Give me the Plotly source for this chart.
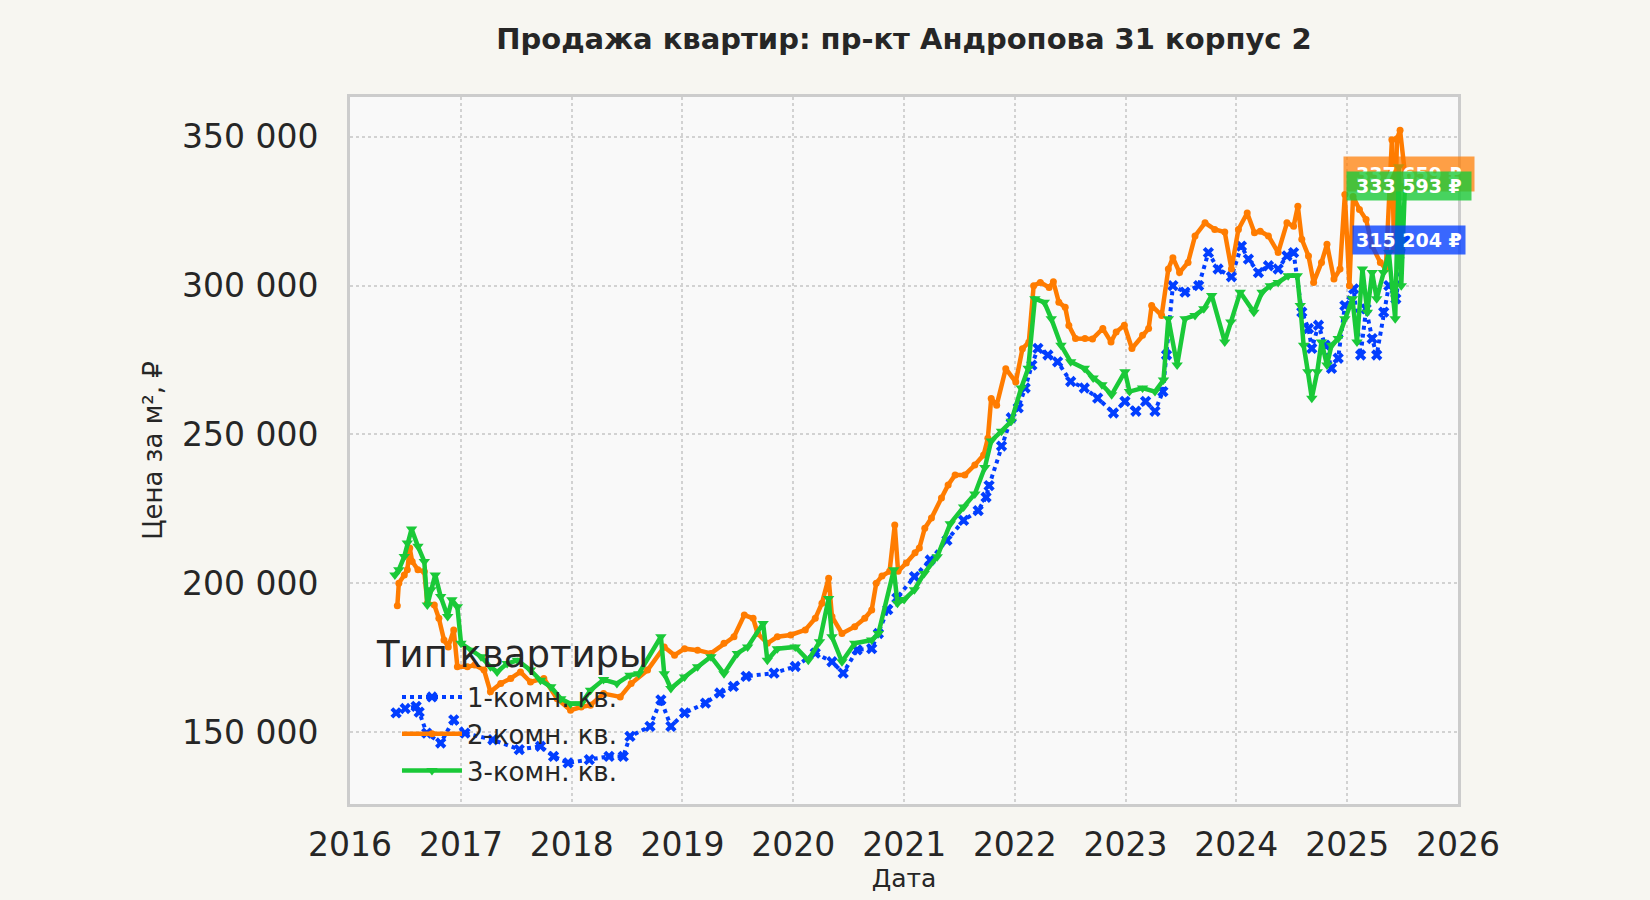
import plotly.graph_objects as go

# 1-комн. кв.
dates_1k = [
    "2016-06-01", "2016-07-01", "2016-08-06", "2016-08-16", "2016-09-10", "2016-10-26",
    "2016-12-08", "2017-01-14", "2017-04-16", "2017-07-12", "2017-09-20", "2017-11-02",
    "2017-12-20", "2018-02-28", "2018-05-04", "2018-06-20", "2018-07-12", "2018-09-16",
    "2018-10-22", "2018-11-24", "2019-01-08", "2019-03-18", "2019-05-04", "2019-06-18",
    "2019-07-30", "2019-10-30", "2020-01-08", "2020-03-14", "2020-05-08", "2020-06-14",
    "2020-07-30", "2020-09-16", "2020-10-08", "2020-11-08", "2020-12-08", "2021-02-04",
    "2021-03-28", "2021-05-22", "2021-07-16", "2021-09-02", "2021-09-28", "2021-10-08",
    "2021-11-18", "2021-12-20", "2022-01-12", "2022-02-04", "2022-02-26", "2022-03-18",
    "2022-04-20", "2022-05-22", "2022-07-04", "2022-08-18", "2022-10-01", "2022-11-22",
    "2022-12-30", "2023-02-04", "2023-03-08", "2023-04-08", "2023-05-04", "2023-05-16",
    "2023-06-06", "2023-07-16", "2023-08-30", "2023-10-01", "2023-11-02", "2023-12-16",
    "2024-01-18", "2024-02-10", "2024-03-14", "2024-04-16", "2024-05-18", "2024-06-16",
    "2024-07-08", "2024-08-04", "2024-08-26", "2024-09-06", "2024-09-28", "2024-10-20",
    "2024-11-10", "2024-12-02", "2024-12-24", "2025-01-22", "2025-02-14", "2025-03-04",
    "2025-03-24", "2025-04-08", "2025-05-01", "2025-05-18", "2025-06-10", "2025-07-10",
]
prices_1k = [
    156400, 157900, 158600, 156700, 149600, 146300,
    154100, 149600, 147400, 144100, 145200, 141800,
    139600, 140700, 141800, 141800, 148500, 151900,
    160800, 151900, 156400, 159700, 163100, 165300,
    168700, 169800, 172000, 176500, 173600, 169800,
    177600, 178000, 183100, 191100, 195000, 202200,
    207800, 214400, 221100, 224400, 228900, 232800,
    246100, 255600, 258900, 265600, 273300, 278900,
    276700, 274400, 267800, 265600, 262200, 257200,
    261100, 257800, 261100, 257800, 264400, 276700,
    300000, 297800, 300000, 311100, 305600, 303000,
    313300, 308900, 304400, 306700, 305600, 310000,
    311100, 291100, 285600, 278900, 286700, 280000,
    272200, 275600, 293300, 298900, 276700, 292200,
    282200, 276700, 291100, 300000, 295600, 315204,
]

# 2-комн. кв.
dates_2k = [
    "2016-06-05", "2016-06-10", "2016-06-28", "2016-07-08", "2016-07-16", "2016-07-24",
    "2016-08-12", "2016-09-02", "2016-09-12", "2016-10-05", "2016-10-20", "2016-11-06",
    "2016-11-20", "2016-12-08", "2016-12-20", "2017-01-22", "2017-02-15", "2017-03-18",
    "2017-04-08", "2017-05-12", "2017-06-14", "2017-07-16", "2017-08-18", "2017-10-01",
    "2017-11-14", "2017-12-28", "2018-02-01", "2018-03-04", "2018-04-16", "2018-06-10",
    "2018-07-16", "2018-09-08", "2018-11-02", "2018-12-06", "2019-01-08", "2019-02-20",
    "2019-04-05", "2019-05-18", "2019-06-20", "2019-07-24", "2019-08-22", "2019-09-06",
    "2019-10-08", "2019-11-10", "2019-12-24", "2020-02-10", "2020-03-14", "2020-04-05",
    "2020-04-27", "2020-05-08", "2020-06-10", "2020-07-22", "2020-08-24", "2020-09-16",
    "2020-10-01", "2020-10-20", "2020-11-14", "2020-12-01", "2020-12-12", "2021-01-08",
    "2021-02-06", "2021-02-20", "2021-03-10", "2021-04-01", "2021-05-04", "2021-05-26",
    "2021-06-18", "2021-07-20", "2021-08-22", "2021-09-20", "2021-10-04", "2021-10-15",
    "2021-11-02", "2021-12-02", "2022-01-04", "2022-01-26", "2022-02-16", "2022-03-04",
    "2022-03-26", "2022-04-24", "2022-05-08", "2022-05-26", "2022-06-16", "2022-06-28",
    "2022-07-20", "2022-08-20", "2022-09-14", "2022-10-18", "2022-11-14", "2022-12-01",
    "2022-12-28", "2023-01-22", "2023-02-26", "2023-03-18", "2023-03-28", "2023-04-30",
    "2023-05-22", "2023-06-06", "2023-06-28", "2023-07-26", "2023-08-18", "2023-09-20",
    "2023-10-22", "2023-11-24", "2023-12-16", "2024-01-08", "2024-02-06", "2024-03-01",
    "2024-03-20", "2024-04-16", "2024-05-18", "2024-06-16", "2024-07-08", "2024-07-22",
    "2024-08-04", "2024-08-26", "2024-09-12", "2024-10-08", "2024-10-26", "2024-11-18",
    "2024-12-08", "2024-12-24", "2025-01-08", "2025-01-20", "2025-02-10", "2025-03-04",
    "2025-03-24", "2025-04-20", "2025-05-08", "2025-05-28", "2025-06-04", "2025-06-14",
    "2025-06-24", "2025-07-10",
]
prices_2k = [
    192400, 200000, 202800, 204500, 211800, 207300,
    204500, 203900, 193300, 192700, 188200, 180900,
    178600, 184300, 171900, 171900, 172500, 170800,
    163500, 166300, 168000, 170200, 166800, 168000,
    161200, 157300, 158400, 159000, 162900, 161800,
    166300, 170800, 178600, 175800, 178000, 177500,
    176400, 179800, 182000, 189300, 188200, 183100,
    179800, 182000, 182600, 184300, 188200, 193300,
    201700, 188800, 183100, 185400, 188200, 191000,
    200000, 202400, 204000, 219600, 204000, 206800,
    210200, 211800, 218500, 221900, 228600, 233000,
    236400, 236400, 239700, 243100, 248700, 262100,
    259800, 272100, 267600, 278800, 281000, 300000,
    301100, 299400, 301300, 294400, 292700, 286600,
    282200, 282200, 282100, 285600, 281100, 284400,
    286700, 278900, 283300, 285600, 293300, 290000,
    305600, 309400, 304400, 307800, 316700, 321100,
    318900, 318000, 305600, 318900, 324400, 317800,
    318300, 316700, 311100, 321100, 320000, 326700,
    315600, 310000, 301100, 307800, 313900, 302200,
    305600, 330600, 300000, 330000, 325600, 322200,
    313300, 307800, 305600, 349000, 312000, 349400,
    352200, 337659,
]

# 3-комн. кв.
dates_3k = [
    "2016-05-28", "2016-06-10", "2016-06-28", "2016-07-08", "2016-07-22", "2016-08-12",
    "2016-09-02", "2016-09-12", "2016-09-24", "2016-10-08", "2016-10-26", "2016-11-18",
    "2016-12-02", "2016-12-20", "2017-01-01", "2017-02-04", "2017-03-08", "2017-04-08",
    "2017-04-30", "2017-06-02", "2017-07-06", "2017-08-18", "2017-09-20", "2017-10-24",
    "2017-11-26", "2017-12-28", "2018-02-01", "2018-03-04", "2018-04-16", "2018-05-30",
    "2018-07-12", "2018-08-10", "2018-10-22", "2018-11-02", "2018-11-24", "2019-01-08",
    "2019-02-20", "2019-04-05", "2019-05-18", "2019-07-01", "2019-08-04", "2019-09-24",
    "2019-10-08", "2019-11-10", "2020-01-08", "2020-02-20", "2020-03-28", "2020-04-27",
    "2020-05-08", "2020-06-10", "2020-07-22", "2020-09-16", "2020-10-08", "2020-11-28",
    "2020-12-10", "2021-01-01", "2021-02-04", "2021-03-08", "2021-04-20", "2021-06-02",
    "2021-07-16", "2021-08-22", "2021-09-24", "2021-10-15", "2021-11-18", "2021-12-20",
    "2022-01-22", "2022-02-14", "2022-03-08", "2022-04-08", "2022-05-01", "2022-06-02",
    "2022-07-04", "2022-08-18", "2022-09-16", "2022-10-15", "2022-11-16", "2022-12-30",
    "2023-01-14", "2023-02-26", "2023-04-08", "2023-05-06", "2023-05-22", "2023-06-20",
    "2023-07-16", "2023-08-18", "2023-09-16", "2023-10-12", "2023-11-24", "2023-12-14",
    "2024-01-14", "2024-02-28", "2024-03-26", "2024-04-22", "2024-05-18", "2024-06-20",
    "2024-07-20", "2024-07-30", "2024-08-10", "2024-08-24", "2024-09-06", "2024-09-24",
    "2024-10-08", "2024-10-26", "2024-11-10", "2024-12-02", "2024-12-24", "2025-01-18",
    "2025-02-02", "2025-02-20", "2025-03-08", "2025-03-24", "2025-04-08", "2025-04-30",
    "2025-05-18", "2025-06-08", "2025-06-20", "2025-06-28", "2025-07-10",
]
prices_3k = [
    202800, 204500, 209000, 213500, 218200, 212400,
    207300, 192700, 197800, 202800, 195500, 188800,
    194400, 192100, 179800, 177500, 175300, 171900,
    170200, 173000, 174100, 170800, 167400, 165200,
    161200, 159500, 159500, 164000, 167600, 166300,
    169100, 169600, 182000, 169600, 164600, 168500,
    171900, 175300, 169600, 176400, 178600, 186500,
    174100, 178000, 178600, 174100, 180300, 194900,
    182000, 173600, 179800, 180900, 183100, 204500,
    193300, 194500, 197800, 203300, 208900, 220000,
    225600, 230000, 238900, 247800, 251100, 254400,
    265600, 272200, 295600, 294400, 288900, 280000,
    274400, 272200, 269000, 266700, 263300, 271100,
    264400, 265600, 264400, 268300, 288900, 273300,
    288900, 290000, 292200, 296700, 281100, 287800,
    297800, 291100, 297800, 300000, 301100, 303300,
    303300, 293300, 280000, 271100, 262200, 271100,
    281100, 273300, 280000, 282200, 288900, 295600,
    281100, 305600, 291100, 304400, 295600, 304400,
    311100, 288900, 340000, 300000, 333593,
]

series_names = ["1-комн. кв.", "2-комн. кв.", "3-комн. кв."]
legend_title = "Тип квартиры"
colors = ["#023eff", "#ff7c00", "#1ac938"]
label_bg = ["rgba(2,62,255,0.78)", "rgba(255,124,0,0.72)", "rgba(26,201,56,0.8)"]

FONT = "DejaVu Sans"
PAGE_BG = "#f7f6f1"
NBSP = "\u00a0"

fig = go.Figure()

fig.add_trace(go.Scatter(
    x=dates_1k, y=prices_1k, name=series_names[0], mode="lines+markers",
    line=dict(color=colors[0], width=4, dash="dot"),
    marker=dict(symbol="x", size=10, color=colors[0]),
))
fig.add_trace(go.Scatter(
    x=dates_2k, y=prices_2k, name=series_names[1], mode="lines+markers",
    line=dict(color=colors[1], width=4.5),
    marker=dict(symbol="circle", size=7, color=colors[1]),
))
fig.add_trace(go.Scatter(
    x=dates_3k, y=prices_3k, name=series_names[2], mode="lines+markers",
    line=dict(color=colors[2], width=4.5),
    marker=dict(symbol="triangle-down", size=10, color=colors[2]),
))


def fmt_rub(v):
    return f"{v:,}".replace(",", " ") + " ₽"


# end-of-series labels: orange under green, blue last
for dates, prices, bg, pad, side in [(dates_2k, prices_2k, label_bg[1], 6, NBSP),
                                     (dates_3k, prices_3k, label_bg[2], 3, NBSP),
                                     (dates_1k, prices_1k, label_bg[0], 3, "")]:
    fig.add_annotation(
        x=dates[-1], y=prices[-1], text=side + "<b>" + fmt_rub(prices[-1]) + "</b>" + side,
        showarrow=False, xanchor="center", yanchor="middle", xshift=4,
        font=dict(family=FONT, size=19, color="white"),
        bgcolor=bg, borderpad=pad,
    )

# legend heading sits a bit left of the legend entries, like in matplotlib
fig.add_annotation(
    x=0.0213, y=0.211, xref="paper", yref="paper", xanchor="left", yanchor="middle",
    text=legend_title, showarrow=False,
    font=dict(family=FONT, size=37, color="#262626"),
)

fig.update_layout(
    width=1650, height=900,
    paper_bgcolor=PAGE_BG,
    plot_bgcolor="#f9f9f9",
    separators=". ",
    font=dict(family=FONT, color="#262626"),
    margin=dict(l=350, r=192, t=97, b=96),
    title=dict(
        text="<b>Продажа квартир: пр-кт Андропова 31 корпус 2</b>",
        x=0.5, xref="paper", xanchor="center",
        y=1 - 39 / 900, yref="container", yanchor="middle",
        font=dict(family=FONT, size=29, color="#262626"),
    ),
    legend=dict(
        font=dict(family=FONT, size=26, color="#262626"),
        x=0.0424, y=0.1845, xanchor="left", yanchor="top",
        bgcolor="rgba(0,0,0,0)", itemwidth=60,
    ),
    showlegend=True,
)

fig.update_xaxes(
    range=["2016-01-01", "2026-01-01"],
    dtick="M12", tick0="2016-01-01", tickformat="%Y",
    showgrid=True, gridcolor="#d2d2d2", gridwidth=2, griddash="dot",
    showline=True, linewidth=3, linecolor="#cccccc", mirror=True,
    zeroline=False, ticks="", automargin=False,
    tickfont=dict(family=FONT, size=33, color="#262626"),
    ticklabelstandoff=9,
    title=dict(text="Дата", font=dict(family=FONT, size=25, color="#262626"), standoff=6),
)
fig.update_yaxes(
    range=[125800, 363400],
    tick0=150000, dtick=50000, tickformat=",d",
    showgrid=True, gridcolor="#d2d2d2", gridwidth=2, griddash="dot",
    showline=True, linewidth=3, linecolor="#cccccc", mirror=True,
    zeroline=False, ticks="", automargin=False,
    tickfont=dict(family=FONT, size=33, color="#262626"),
    ticklabelstandoff=22,
    title=dict(text="Цена за м², ₽", font=dict(family=FONT, size=26, color="#262626"), standoff=12),
)

# page itself: no white margin around the figure, no toolbar
fig.write_html(
    "out.html",
    config={"displayModeBar": False},
    post_script="document.body.style.margin='0';document.body.style.background='%s';" % PAGE_BG,
)
